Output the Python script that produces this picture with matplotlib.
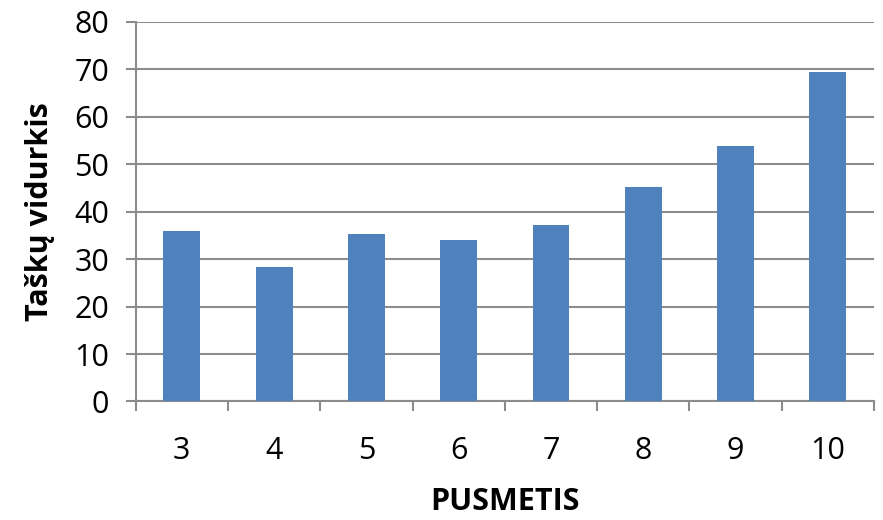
import matplotlib
matplotlib.use("Agg")
import matplotlib.pyplot as plt
import numpy as np

# Data
semesters = ["3", "4", "5", "6", "7", "8", "9", "10"]
avg_points = [35.9, 28.3, 35.4, 34.0, 37.2, 45.2, 53.9, 69.4]
y_ticks = [0, 10, 20, 30, 40, 50, 60, 70, 80]

plt.rcParams["font.family"] = ["Open Sans", "DejaVu Sans"]

fig = plt.figure(figsize=(8.83, 5.2), dpi=100)
ax = fig.add_axes([0.1537, 0.2279, 0.8361, 0.7298])

x = np.arange(len(semesters))
ax.bar(x, avg_points, width=0.4, color="#4F81BD", zorder=3)

ax.set_xlim(-0.5, len(semesters) - 0.5)
ax.set_ylim(0, 80)
ax.set_yticks(y_ticks)
ax.yaxis.grid(True, color="#8c8c8c", linewidth=1.5, zorder=0)

# category labels centred, tick marks between categories
ax.set_xticks(x)
ax.set_xticklabels(semesters)
ax.set_xticks(np.arange(-0.5, len(semesters)), minor=True)
ax.tick_params(axis="x", which="major", length=0, pad=25, labelsize=22)
ax.tick_params(axis="x", which="minor", length=7, width=1.5, color="#8c8c8c")
ax.tick_params(axis="y", length=7, width=1.5, color="#8c8c8c", pad=12, labelsize=22)

for side in ["top", "right"]:
    ax.spines[side].set_visible(False)
for side in ["left", "bottom"]:
    ax.spines[side].set_color("#8c8c8c")
    ax.spines[side].set_linewidth(1.5)

ax.set_xlabel("PUSMETIS", fontsize=22, fontweight="bold", labelpad=15)
ax.set_ylabel("Taškų vidurkis", fontsize=22, fontweight="bold", labelpad=14)

fig.savefig("out.png", dpi=100)
